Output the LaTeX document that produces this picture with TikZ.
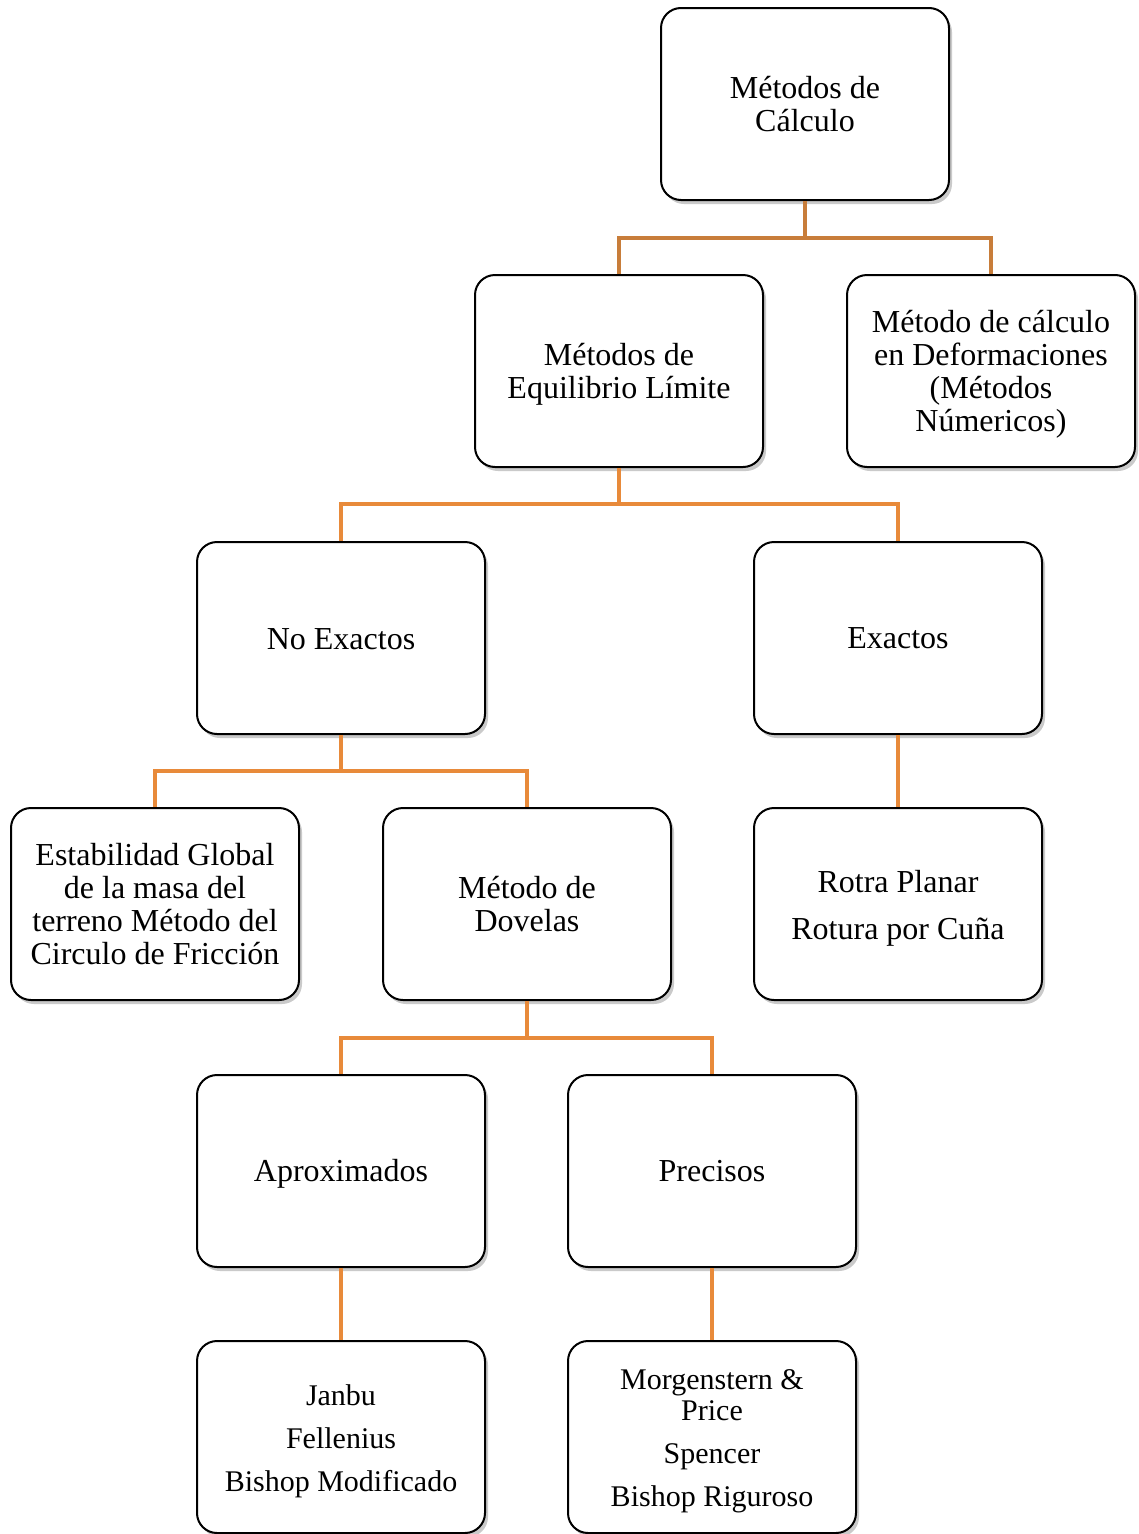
\documentclass[tikz,border=0pt]{standalone}
\usepackage{fontspec}
\setmainfont{Liberation Serif}
\usetikzlibrary{shadows}
\definecolor{conA}{RGB}{200,125,58}
\definecolor{conB}{RGB}{232,138,58}
\begin{document}
\begin{tikzpicture}[x=1pt,y=-1pt,
  box/.style={draw=black, line width=2pt, rounded corners=20pt, fill=white,
    minimum width=288pt, minimum height=192pt, inner sep=0pt,
    drop shadow={shadow xshift=3pt, shadow yshift=-4pt, opacity=0.35, fill=black!60}},
  txt/.style={align=center, inner sep=0pt, font=\fontsize{32}{33}\selectfont},
  txtb/.style={align=center, inner sep=0pt, font=\fontsize{30}{33}\selectfont},
  conn/.style={line width=4.5pt, draw=conB},
  connA/.style={line width=4.5pt, draw=conA}]
\useasboundingbox (0,0) rectangle (1139,1534);
\coordinate (c1) at (805,238);
\coordinate (c2) at (619,504);
\coordinate (c3) at (341,771);
\coordinate (c4) at (527,1038);
\node[box, label={[txt]center:Métodos de\\Cálculo}] (top) at (805,104) {};
\node[box, label={[txt, yshift=-3pt]center:Métodos de\\Equilibrio Límite}] (eq) at (619,371) {};
\node[box, label={[txt, yshift=-3pt]center:Método de cálculo\\en Deformaciones\\(Métodos\\Númericos)}] (def) at (991,371) {};
\node[box, label={[txt, yshift=-1pt]center:No Exactos}] (noex) at (341,638) {};
\node[box, label={[txt]center:Exactos}] (ex) at (898,638) {};
\node[box, label={[txt]center:Estabilidad Global\\de la masa del\\terreno Método del\\Circulo de Fricción}] (est) at (155,904) {};
\node[box, label={[txt]center:Método de\\Dovelas}] (dov) at (527,904) {};
\node[box, label={[txt, yshift=-4pt]center:Rotra Planar\\[14pt]Rotura por Cuña}] (rot) at (898,904) {};
\node[box, label={[txt, yshift=-3pt]center:Aproximados}] (apr) at (341,1171) {};
\node[box, label={[txt]center:Precisos}] (pre) at (712,1171) {};
\node[box, label={[txtb, yshift=-4pt]center:Janbu\\[10pt]Fellenius\\[10pt]Bishop Modificado}] (jan) at (341,1437) {};
\node[box, label={[txtb, font=\fontsize{30}{31}\selectfont, yshift=-4pt]center:Morgenstern \&\\Price\\[12pt]Spencer\\[12pt]Bishop Riguroso}] (mor) at (712,1437) {};
\draw[connA] (top.south) -- (c1);
\draw[connA] (eq.north) |- (c1) -| (def.north);
\draw[conn] (eq.south) -- (c2);
\draw[conn] (noex.north) |- (c2) -| (ex.north);
\draw[conn] (noex.south) -- (c3);
\draw[conn] (est.north) |- (c3) -| (dov.north);
\draw[conn] (ex.south) -- (rot.north);
\draw[conn] (dov.south) -- (c4);
\draw[conn] (apr.north) |- (c4) -| (pre.north);
\draw[conn] (apr.south) -- (jan.north);
\draw[conn] (pre.south) -- (mor.north);
\end{tikzpicture}
\end{document}
